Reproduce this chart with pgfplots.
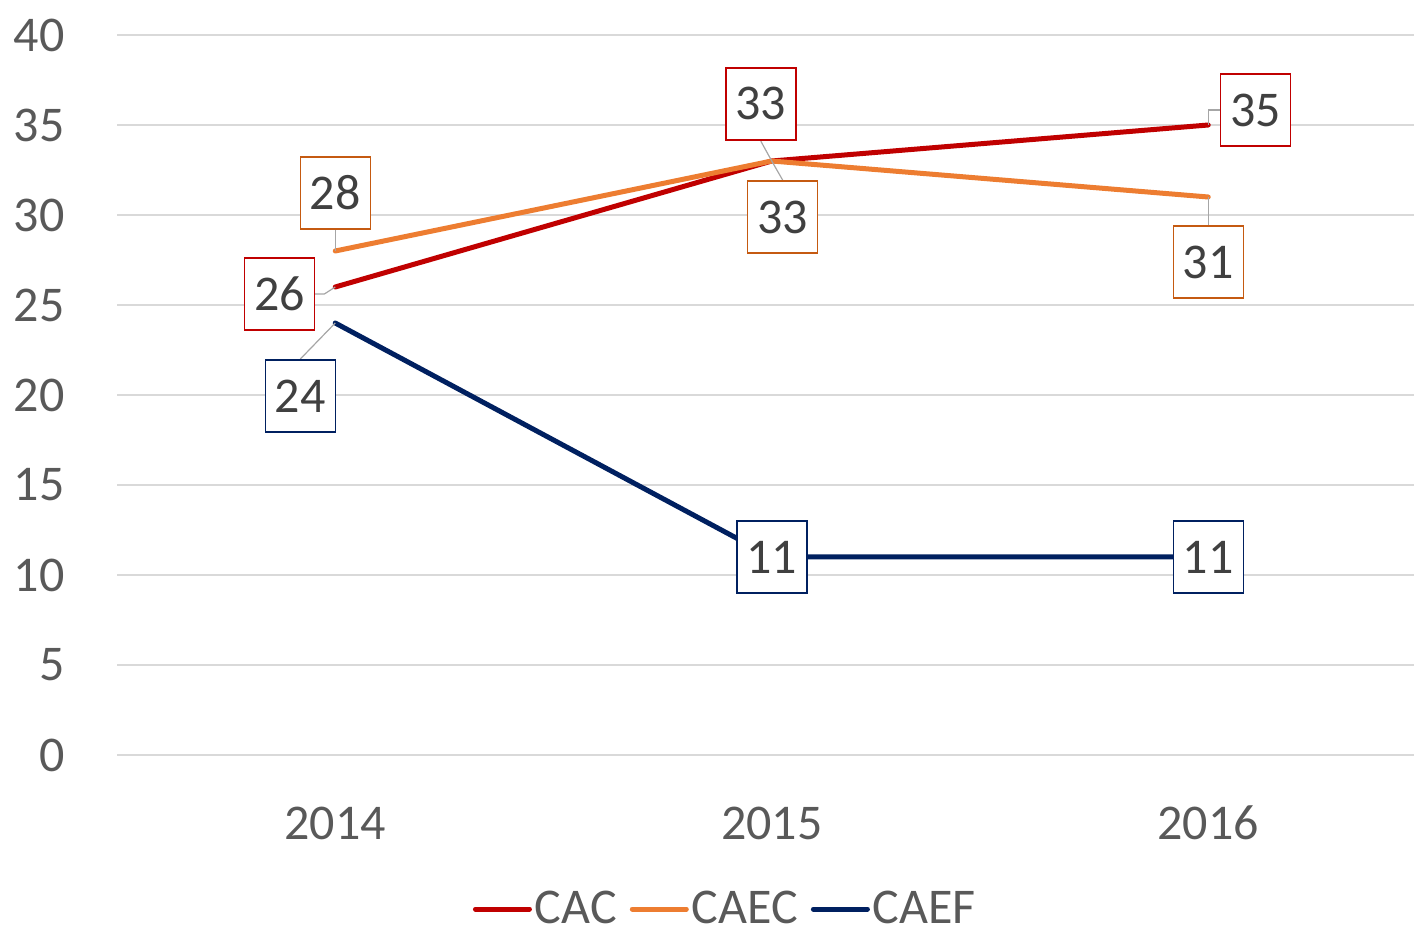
\documentclass[border=0pt]{standalone}
\usepackage{pgfplots}
\pgfplotsset{compat=1.18}
\usepackage{fontspec}
\setmainfont{Carlito}
\definecolor{cac}{HTML}{C00000}
\definecolor{caec}{HTML}{ED7D31}
\definecolor{caecb}{HTML}{C55A11}
\definecolor{caef}{HTML}{002060}
\definecolor{gridc}{HTML}{D9D9D9}
\definecolor{tickc}{HTML}{595959}
\definecolor{lbl}{HTML}{404040}
\definecolor{lead}{HTML}{A6A6A6}
\begin{document}
\begin{tikzpicture}
\begin{axis}[
  at={(58.5bp,88.5bp)}, anchor=south west,
  scale only axis, width=654.75bp, height=360bp,
  xmin=-0.5, xmax=2.5, ymin=0, ymax=40,
  xtick={0,1,2}, xticklabels={2014,2015,2016},
  ytick={0,5,...,40},
  xmajorgrids=false, ymajorgrids=true, grid style={draw=gridc, line width=0.75bp},
  axis line style={draw=none}, major tick style={draw=none},
  font=\fontsize{25bp}{30bp}\selectfont,
  /pgf/number format/assume math mode=true,
  ticklabel style={text=tickc, font=\fontsize{25bp}{30bp}\selectfont},
  yticklabel style={anchor=east, inner sep=0pt, xshift=-26bp},
  xticklabel style={anchor=center, inner sep=0pt, yshift=-34bp},
  clip=false,
  legend columns=3,
  legend style={at={(58.5bp,0)}, anchor=center, at={(axis description cs:0.465,0)}, yshift=-77bp,
    draw=none, fill=none, text=tickc, font=\fontsize{25bp}{30bp}\selectfont,
    inner sep=0pt,
    /tikz/every even column/.append style={column sep=5bp},
    nodes={inner xsep=1.5bp, inner ysep=0pt}},
  legend image code/.code={\draw[#1, line width=2.5bp, line cap=round] (0,0) -- (27bp,0);},
]
\addplot[cac, line width=2.5bp, line cap=round, line join=round] coordinates {(0,26) (1,33) (2,35)};
\addlegendentry{CAC}
\addplot[caec, line width=2.5bp, line cap=round, line join=round] coordinates {(0,28) (1,33) (2,31)};
\addlegendentry{CAEC}
\addplot[caef, line width=2.5bp, line cap=round, line join=round] coordinates {(0,24) (1,11) (2,11)};
\addlegendentry{CAEF}

\draw[lead, line width=0.6bp] (axis cs:-0.048,25.61) -- (axis cs:-0.025,25.61) -- (axis cs:0,26);
\draw[lead, line width=0.6bp] (axis cs:-0.080,22.0) -- (axis cs:0,24);
\draw[lead, line width=0.6bp] (axis cs:0,29.2) -- (axis cs:0,28);
\draw[lead, line width=0.6bp] (axis cs:0.975,34.1) -- (axis cs:1,33);
\draw[lead, line width=0.6bp] (axis cs:1.025,31.94) -- (axis cs:1,33);
\draw[lead, line width=0.6bp] (axis cs:2.0275,35.83) -- (axis cs:2,35.83) -- (axis cs:2,35);
\draw[lead, line width=0.6bp] (axis cs:2,29.44) -- (axis cs:2,31);

\tikzset{lab/.style={draw=#1, line width=0.75bp, fill=white, text=lbl,
  minimum width=35bp, minimum height=36bp, inner sep=0pt,
  font=\fontsize{25bp}{30bp}\selectfont}}
\node[lab=caecb] at (axis cs:0,31.22) {28};
\node[lab=cac] at (axis cs:-0.128,25.61) {26};
\node[lab=caef] at (axis cs:-0.080,19.94) {24};
\node[lab=cac] at (axis cs:0.975,36.17) {33};
\node[lab=caecb] at (axis cs:1.025,29.89) {33};
\node[lab=cac] at (axis cs:2.108,35.83) {35};
\node[lab=caecb] at (axis cs:2,27.39) {31};
\node[lab=caef] at (axis cs:1,11) {11};
\node[lab=caef] at (axis cs:2,11) {11};
\end{axis}
\pgfresetboundingbox
\path[use as bounding box] (0,0) rectangle (707bp,466bp);
\end{tikzpicture}
\end{document}
